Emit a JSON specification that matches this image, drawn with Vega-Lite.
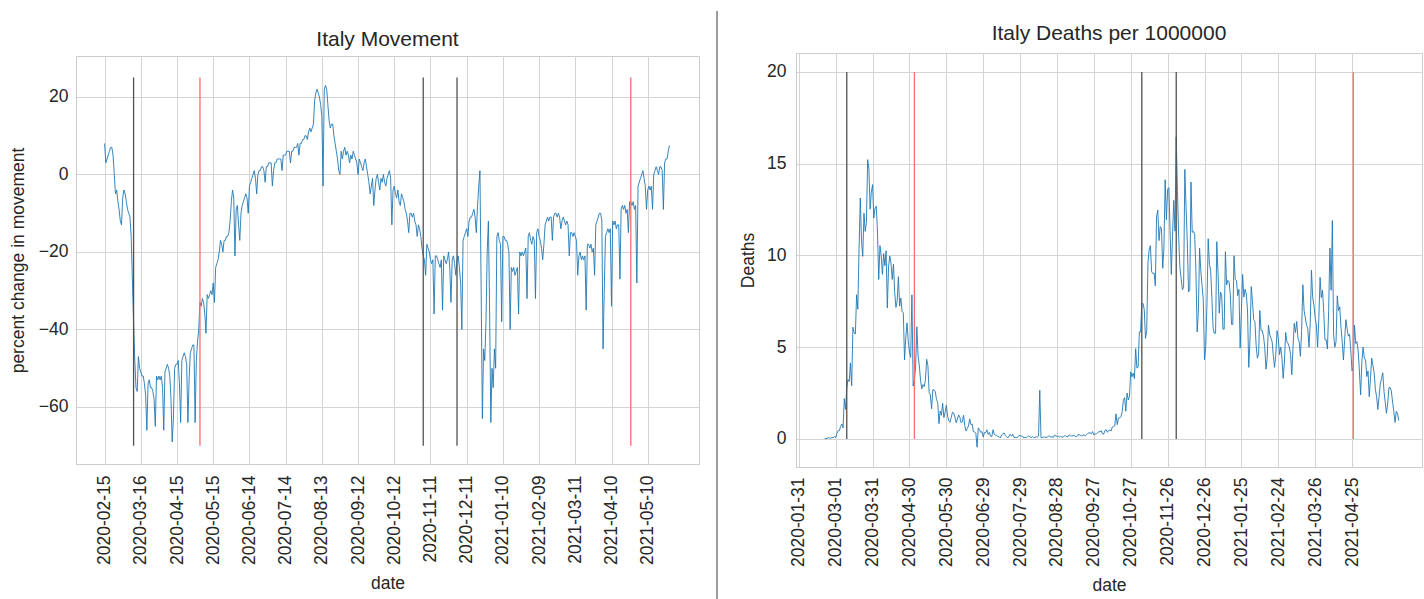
{
"$schema": "https://vega.github.io/schema/vega-lite/v6.json",
"background": "white",
"padding": {"left": 8, "top": 10, "right": 0, "bottom": 0},
"config": {
"font": "Liberation Sans",
"view": {"stroke": "#cccccc", "strokeWidth": 1},
"axis": {"grid": true, "gridColor": "#d4d4d4", "gridWidth": 1, "domain": false, "ticks": false, "labelFlush": false, "labelOverlap": false, "labelFont": "Liberation Sans", "labelFontSize": 17.5, "labelColor": "#262626", "titleFont": "Liberation Sans", "titleFontSize": 17.5, "titleFontWeight": "normal", "titleColor": "#262626"},
"title": {"font": "Liberation Sans", "fontSize": 21, "fontWeight": "normal", "color": "#262626", "anchor": "middle"}
},
"datasets": {
"events": [{"date":"2020-03-10","kind":"lockdown"},{"date":"2020-05-04","kind":"reopening"},{"date":"2020-11-05","kind":"lockdown"},{"date":"2020-12-03","kind":"lockdown"},{"date":"2021-04-26","kind":"reopening"}],
"movement": [
{"date":"2020-02-15","value":8},{"date":"2020-02-16","value":3},{"date":"2020-02-17","value":4},{"date":"2020-02-18","value":5},{"date":"2020-02-19","value":6},{"date":"2020-02-20","value":7},{"date":"2020-02-21","value":7},{"date":"2020-02-22","value":5},{"date":"2020-02-23","value":0},{"date":"2020-02-24","value":-5},{"date":"2020-02-25","value":-4},{"date":"2020-02-26","value":-7},{"date":"2020-02-27","value":-9},{"date":"2020-02-28","value":-12},{"date":"2020-02-29","value":-13},
{"date":"2020-03-01","value":-6},{"date":"2020-03-02","value":-4},{"date":"2020-03-03","value":-5},{"date":"2020-03-04","value":-7},{"date":"2020-03-05","value":-9},{"date":"2020-03-06","value":-10},{"date":"2020-03-07","value":-11},{"date":"2020-03-08","value":-16},{"date":"2020-03-09","value":-27},{"date":"2020-03-10","value":-38},{"date":"2020-03-11","value":-48},{"date":"2020-03-12","value":-55},{"date":"2020-03-13","value":-56},{"date":"2020-03-14","value":-47},{"date":"2020-03-15","value":-50},{"date":"2020-03-16","value":-51},{"date":"2020-03-17","value":-52},{"date":"2020-03-18","value":-52},{"date":"2020-03-19","value":-54},{"date":"2020-03-20","value":-57},{"date":"2020-03-21","value":-66},{"date":"2020-03-22","value":-54},{"date":"2020-03-23","value":-53},{"date":"2020-03-24","value":-55},{"date":"2020-03-25","value":-55},{"date":"2020-03-26","value":-56},{"date":"2020-03-27","value":-58},{"date":"2020-03-28","value":-65},{"date":"2020-03-29","value":-52},{"date":"2020-03-30","value":-53},{"date":"2020-03-31","value":-52},
{"date":"2020-04-01","value":-53},{"date":"2020-04-02","value":-52},{"date":"2020-04-03","value":-55},{"date":"2020-04-04","value":-66},{"date":"2020-04-05","value":-51},{"date":"2020-04-06","value":-50},{"date":"2020-04-07","value":-49},{"date":"2020-04-08","value":-50},{"date":"2020-04-09","value":-52},{"date":"2020-04-10","value":-58},{"date":"2020-04-11","value":-69},{"date":"2020-04-12","value":-63},{"date":"2020-04-13","value":-50},{"date":"2020-04-14","value":-49},{"date":"2020-04-15","value":-49},{"date":"2020-04-16","value":-48},{"date":"2020-04-17","value":-54},{"date":"2020-04-18","value":-64},{"date":"2020-04-19","value":-48},{"date":"2020-04-20","value":-47},{"date":"2020-04-21","value":-46},{"date":"2020-04-22","value":-47},{"date":"2020-04-23","value":-49},{"date":"2020-04-24","value":-64},{"date":"2020-04-25","value":-53},{"date":"2020-04-26","value":-46},{"date":"2020-04-27","value":-45},{"date":"2020-04-28","value":-44},{"date":"2020-04-29","value":-44},{"date":"2020-04-30","value":-64},
{"date":"2020-05-01","value":-48},{"date":"2020-05-02","value":-43},{"date":"2020-05-03","value":-40},{"date":"2020-05-04","value":-33},{"date":"2020-05-05","value":-34},{"date":"2020-05-06","value":-32},{"date":"2020-05-07","value":-33},{"date":"2020-05-08","value":-36},{"date":"2020-05-09","value":-41},{"date":"2020-05-10","value":-31},{"date":"2020-05-11","value":-32},{"date":"2020-05-12","value":-31},{"date":"2020-05-13","value":-30},{"date":"2020-05-14","value":-31},{"date":"2020-05-15","value":-28},{"date":"2020-05-16","value":-33},{"date":"2020-05-17","value":-24},{"date":"2020-05-18","value":-23},{"date":"2020-05-19","value":-22},{"date":"2020-05-20","value":-20},{"date":"2020-05-21","value":-17},{"date":"2020-05-22","value":-18},{"date":"2020-05-23","value":-20},{"date":"2020-05-24","value":-17},{"date":"2020-05-25","value":-17},{"date":"2020-05-26","value":-16},{"date":"2020-05-27","value":-16},{"date":"2020-05-28","value":-15},{"date":"2020-05-29","value":-12},{"date":"2020-05-30","value":-7},{"date":"2020-05-31","value":-4},
{"date":"2020-06-01","value":-6},{"date":"2020-06-02","value":-21},{"date":"2020-06-03","value":-9},{"date":"2020-06-04","value":-8},{"date":"2020-06-05","value":-13},{"date":"2020-06-06","value":-17},{"date":"2020-06-07","value":-10},{"date":"2020-06-08","value":-8},{"date":"2020-06-09","value":-7},{"date":"2020-06-10","value":-6},{"date":"2020-06-11","value":-5},{"date":"2020-06-12","value":-6},{"date":"2020-06-13","value":-10},{"date":"2020-06-14","value":-3},{"date":"2020-06-15","value":-2},{"date":"2020-06-16","value":-1},{"date":"2020-06-17","value":0},{"date":"2020-06-18","value":1},{"date":"2020-06-19","value":-1},{"date":"2020-06-20","value":-5},{"date":"2020-06-21","value":0},{"date":"2020-06-22","value":1},{"date":"2020-06-23","value":1},{"date":"2020-06-24","value":2},{"date":"2020-06-25","value":2},{"date":"2020-06-26","value":1},{"date":"2020-06-27","value":-2},{"date":"2020-06-28","value":2},{"date":"2020-06-29","value":2},{"date":"2020-06-30","value":3},
{"date":"2020-07-01","value":3},{"date":"2020-07-02","value":3},{"date":"2020-07-03","value":-3},{"date":"2020-07-04","value":1},{"date":"2020-07-05","value":3},{"date":"2020-07-06","value":3},{"date":"2020-07-07","value":4},{"date":"2020-07-08","value":4},{"date":"2020-07-09","value":4},{"date":"2020-07-10","value":4},{"date":"2020-07-11","value":1},{"date":"2020-07-12","value":5},{"date":"2020-07-13","value":5},{"date":"2020-07-14","value":5},{"date":"2020-07-15","value":6},{"date":"2020-07-16","value":6},{"date":"2020-07-17","value":6},{"date":"2020-07-18","value":3},{"date":"2020-07-19","value":6},{"date":"2020-07-20","value":6},{"date":"2020-07-21","value":7},{"date":"2020-07-22","value":7},{"date":"2020-07-23","value":7},{"date":"2020-07-24","value":8},{"date":"2020-07-25","value":5},{"date":"2020-07-26","value":8},{"date":"2020-07-27","value":8},{"date":"2020-07-28","value":9},{"date":"2020-07-29","value":9},{"date":"2020-07-30","value":10},{"date":"2020-07-31","value":10},
{"date":"2020-08-01","value":9},{"date":"2020-08-02","value":11},{"date":"2020-08-03","value":12},{"date":"2020-08-04","value":11},{"date":"2020-08-05","value":12},{"date":"2020-08-06","value":13},{"date":"2020-08-07","value":19},{"date":"2020-08-08","value":21},{"date":"2020-08-09","value":22},{"date":"2020-08-10","value":21},{"date":"2020-08-11","value":20},{"date":"2020-08-12","value":18},{"date":"2020-08-13","value":15},{"date":"2020-08-14","value":-3},{"date":"2020-08-15","value":22},{"date":"2020-08-16","value":23},{"date":"2020-08-17","value":22},{"date":"2020-08-18","value":18},{"date":"2020-08-19","value":14},{"date":"2020-08-20","value":12},{"date":"2020-08-21","value":13},{"date":"2020-08-22","value":13},{"date":"2020-08-23","value":10},{"date":"2020-08-24","value":8},{"date":"2020-08-25","value":6},{"date":"2020-08-26","value":4},{"date":"2020-08-27","value":1},{"date":"2020-08-28","value":0},{"date":"2020-08-29","value":6},{"date":"2020-08-30","value":4},{"date":"2020-08-31","value":6},
{"date":"2020-09-01","value":7},{"date":"2020-09-02","value":5},{"date":"2020-09-03","value":6},{"date":"2020-09-04","value":5},{"date":"2020-09-05","value":3},{"date":"2020-09-06","value":5},{"date":"2020-09-07","value":4},{"date":"2020-09-08","value":6},{"date":"2020-09-09","value":5},{"date":"2020-09-10","value":4},{"date":"2020-09-11","value":3},{"date":"2020-09-12","value":0},{"date":"2020-09-13","value":4},{"date":"2020-09-14","value":3},{"date":"2020-09-15","value":2},{"date":"2020-09-16","value":1},{"date":"2020-09-17","value":3},{"date":"2020-09-18","value":4},{"date":"2020-09-19","value":2},{"date":"2020-09-20","value":0},{"date":"2020-09-21","value":-2},{"date":"2020-09-22","value":-5},{"date":"2020-09-23","value":-3},{"date":"2020-09-24","value":-1},{"date":"2020-09-25","value":-8},{"date":"2020-09-26","value":-4},{"date":"2020-09-27","value":-1},{"date":"2020-09-28","value":0},{"date":"2020-09-29","value":-2},{"date":"2020-09-30","value":-4},
{"date":"2020-10-01","value":-1},{"date":"2020-10-02","value":-2},{"date":"2020-10-03","value":0},{"date":"2020-10-04","value":-2},{"date":"2020-10-05","value":-3},{"date":"2020-10-06","value":-1},{"date":"2020-10-07","value":0},{"date":"2020-10-08","value":1},{"date":"2020-10-09","value":-1},{"date":"2020-10-10","value":-13},{"date":"2020-10-11","value":-4},{"date":"2020-10-12","value":-3},{"date":"2020-10-13","value":-5},{"date":"2020-10-14","value":-6},{"date":"2020-10-15","value":-4},{"date":"2020-10-16","value":-7},{"date":"2020-10-17","value":-8},{"date":"2020-10-18","value":-5},{"date":"2020-10-19","value":-6},{"date":"2020-10-20","value":-7},{"date":"2020-10-21","value":-9},{"date":"2020-10-22","value":-10},{"date":"2020-10-23","value":-12},{"date":"2020-10-24","value":-15},{"date":"2020-10-25","value":-10},{"date":"2020-10-26","value":-10},{"date":"2020-10-27","value":-11},{"date":"2020-10-28","value":-10},{"date":"2020-10-29","value":-12},{"date":"2020-10-30","value":-13},{"date":"2020-10-31","value":-16},
{"date":"2020-11-01","value":-13},{"date":"2020-11-02","value":-14},{"date":"2020-11-03","value":-16},{"date":"2020-11-04","value":-19},{"date":"2020-11-05","value":-21},{"date":"2020-11-06","value":-22},{"date":"2020-11-07","value":-26},{"date":"2020-11-08","value":-18},{"date":"2020-11-09","value":-19},{"date":"2020-11-10","value":-20},{"date":"2020-11-11","value":-22},{"date":"2020-11-12","value":-23},{"date":"2020-11-13","value":-22},{"date":"2020-11-14","value":-36},{"date":"2020-11-15","value":-21},{"date":"2020-11-16","value":-21},{"date":"2020-11-17","value":-22},{"date":"2020-11-18","value":-23},{"date":"2020-11-19","value":-24},{"date":"2020-11-20","value":-22},{"date":"2020-11-21","value":-35},{"date":"2020-11-22","value":-21},{"date":"2020-11-23","value":-22},{"date":"2020-11-24","value":-23},{"date":"2020-11-25","value":-22},{"date":"2020-11-26","value":-20},{"date":"2020-11-27","value":-24},{"date":"2020-11-28","value":-33},{"date":"2020-11-29","value":-22},{"date":"2020-11-30","value":-21},
{"date":"2020-12-01","value":-23},{"date":"2020-12-02","value":-26},{"date":"2020-12-03","value":-22},{"date":"2020-12-04","value":-21},{"date":"2020-12-05","value":-24},{"date":"2020-12-06","value":-28},{"date":"2020-12-07","value":-40},{"date":"2020-12-08","value":-17},{"date":"2020-12-09","value":-16},{"date":"2020-12-10","value":-15},{"date":"2020-12-11","value":-14},{"date":"2020-12-12","value":-16},{"date":"2020-12-13","value":-12},{"date":"2020-12-14","value":-11},{"date":"2020-12-15","value":-11},{"date":"2020-12-16","value":-10},{"date":"2020-12-17","value":-9},{"date":"2020-12-18","value":-11},{"date":"2020-12-19","value":-15},{"date":"2020-12-20","value":-8},{"date":"2020-12-21","value":-3},{"date":"2020-12-22","value":1},{"date":"2020-12-23","value":-30},{"date":"2020-12-24","value":-63},{"date":"2020-12-25","value":-45},{"date":"2020-12-26","value":-48},{"date":"2020-12-27","value":-38},{"date":"2020-12-28","value":-20},{"date":"2020-12-29","value":-12},{"date":"2020-12-30","value":-35},{"date":"2020-12-31","value":-64},
{"date":"2021-01-01","value":-50},{"date":"2021-01-02","value":-55},{"date":"2021-01-03","value":-45},{"date":"2021-01-04","value":-50},{"date":"2021-01-05","value":-16},{"date":"2021-01-06","value":-15},{"date":"2021-01-07","value":-17},{"date":"2021-01-08","value":-18},{"date":"2021-01-09","value":-38},{"date":"2021-01-10","value":-16},{"date":"2021-01-11","value":-16},{"date":"2021-01-12","value":-17},{"date":"2021-01-13","value":-17},{"date":"2021-01-14","value":-18},{"date":"2021-01-15","value":-20},{"date":"2021-01-16","value":-40},{"date":"2021-01-17","value":-24},{"date":"2021-01-18","value":-25},{"date":"2021-01-19","value":-24},{"date":"2021-01-20","value":-26},{"date":"2021-01-21","value":-25},{"date":"2021-01-22","value":-24},{"date":"2021-01-23","value":-36},{"date":"2021-01-24","value":-20},{"date":"2021-01-25","value":-21},{"date":"2021-01-26","value":-20},{"date":"2021-01-27","value":-21},{"date":"2021-01-28","value":-20},{"date":"2021-01-29","value":-19},{"date":"2021-01-30","value":-32},{"date":"2021-01-31","value":-16},
{"date":"2021-02-01","value":-15},{"date":"2021-02-02","value":-17},{"date":"2021-02-03","value":-18},{"date":"2021-02-04","value":-16},{"date":"2021-02-05","value":-17},{"date":"2021-02-06","value":-32},{"date":"2021-02-07","value":-15},{"date":"2021-02-08","value":-14},{"date":"2021-02-09","value":-16},{"date":"2021-02-10","value":-17},{"date":"2021-02-11","value":-19},{"date":"2021-02-12","value":-22},{"date":"2021-02-13","value":-18},{"date":"2021-02-14","value":-13},{"date":"2021-02-15","value":-12},{"date":"2021-02-16","value":-11},{"date":"2021-02-17","value":-12},{"date":"2021-02-18","value":-11},{"date":"2021-02-19","value":-11},{"date":"2021-02-20","value":-17},{"date":"2021-02-21","value":-11},{"date":"2021-02-22","value":-10},{"date":"2021-02-23","value":-10},{"date":"2021-02-24","value":-11},{"date":"2021-02-25","value":-10},{"date":"2021-02-26","value":-11},{"date":"2021-02-27","value":-14},{"date":"2021-02-28","value":-12},
{"date":"2021-03-01","value":-11},{"date":"2021-03-02","value":-12},{"date":"2021-03-03","value":-13},{"date":"2021-03-04","value":-12},{"date":"2021-03-05","value":-13},{"date":"2021-03-06","value":-21},{"date":"2021-03-07","value":-15},{"date":"2021-03-08","value":-15},{"date":"2021-03-09","value":-16},{"date":"2021-03-10","value":-15},{"date":"2021-03-11","value":-16},{"date":"2021-03-12","value":-17},{"date":"2021-03-13","value":-26},{"date":"2021-03-14","value":-21},{"date":"2021-03-15","value":-20},{"date":"2021-03-16","value":-22},{"date":"2021-03-17","value":-21},{"date":"2021-03-18","value":-22},{"date":"2021-03-19","value":-21},{"date":"2021-03-20","value":-35},{"date":"2021-03-21","value":-18},{"date":"2021-03-22","value":-18},{"date":"2021-03-23","value":-19},{"date":"2021-03-24","value":-18},{"date":"2021-03-25","value":-20},{"date":"2021-03-26","value":-19},{"date":"2021-03-27","value":-26},{"date":"2021-03-28","value":-13},{"date":"2021-03-29","value":-12},{"date":"2021-03-30","value":-11},{"date":"2021-03-31","value":-10},
{"date":"2021-04-01","value":-10},{"date":"2021-04-02","value":-12},{"date":"2021-04-03","value":-45},{"date":"2021-04-04","value":-30},{"date":"2021-04-05","value":-16},{"date":"2021-04-06","value":-15},{"date":"2021-04-07","value":-14},{"date":"2021-04-08","value":-15},{"date":"2021-04-09","value":-14},{"date":"2021-04-10","value":-34},{"date":"2021-04-11","value":-12},{"date":"2021-04-12","value":-13},{"date":"2021-04-13","value":-12},{"date":"2021-04-14","value":-14},{"date":"2021-04-15","value":-13},{"date":"2021-04-16","value":-13},{"date":"2021-04-17","value":-27},{"date":"2021-04-18","value":-9},{"date":"2021-04-19","value":-8},{"date":"2021-04-20","value":-9},{"date":"2021-04-21","value":-8},{"date":"2021-04-22","value":-10},{"date":"2021-04-23","value":-9},{"date":"2021-04-24","value":-15},{"date":"2021-04-25","value":-7},{"date":"2021-04-26","value":-7},{"date":"2021-04-27","value":-8},{"date":"2021-04-28","value":-7},{"date":"2021-04-29","value":-9},{"date":"2021-04-30","value":-8},
{"date":"2021-05-01","value":-28},{"date":"2021-05-02","value":-3},{"date":"2021-05-03","value":-2},{"date":"2021-05-04","value":-1},{"date":"2021-05-05","value":0},{"date":"2021-05-06","value":1},{"date":"2021-05-07","value":-1},{"date":"2021-05-08","value":-3},{"date":"2021-05-09","value":-9},{"date":"2021-05-10","value":-4},{"date":"2021-05-11","value":-3},{"date":"2021-05-12","value":-4},{"date":"2021-05-13","value":-3},{"date":"2021-05-14","value":-9},{"date":"2021-05-15","value":0},{"date":"2021-05-16","value":1},{"date":"2021-05-17","value":2},{"date":"2021-05-18","value":1},{"date":"2021-05-19","value":0},{"date":"2021-05-20","value":2},{"date":"2021-05-21","value":2},{"date":"2021-05-22","value":1},{"date":"2021-05-23","value":-9},{"date":"2021-05-24","value":3},{"date":"2021-05-25","value":4},{"date":"2021-05-26","value":4},{"date":"2021-05-27","value":6},{"date":"2021-05-28","value":7.5}
],
"deaths": [
{"date":"2020-02-21","value":0.02},{"date":"2020-02-22","value":0.02},{"date":"2020-02-23","value":0.02},{"date":"2020-02-24","value":0.07},{"date":"2020-02-25","value":0.05},{"date":"2020-02-26","value":0.03},{"date":"2020-02-27","value":0.08},{"date":"2020-02-28","value":0.07},{"date":"2020-02-29","value":0.13},
{"date":"2020-03-01","value":0.08},{"date":"2020-03-02","value":0.3},{"date":"2020-03-03","value":0.45},{"date":"2020-03-04","value":0.46},{"date":"2020-03-05","value":0.68},{"date":"2020-03-06","value":0.81},{"date":"2020-03-07","value":0.6},{"date":"2020-03-08","value":2.2},{"date":"2020-03-09","value":1.61},{"date":"2020-03-10","value":2.78},{"date":"2020-03-11","value":3.24},{"date":"2020-03-12","value":3.13},{"date":"2020-03-13","value":4.14},{"date":"2020-03-14","value":2.9},{"date":"2020-03-15","value":6.09},{"date":"2020-03-16","value":5.78},{"date":"2020-03-17","value":5.71},{"date":"2020-03-18","value":7.86},{"date":"2020-03-19","value":7.07},{"date":"2020-03-20","value":10.38},{"date":"2020-03-21","value":13.13},{"date":"2020-03-22","value":10.78},{"date":"2020-03-23","value":9.95},{"date":"2020-03-24","value":12.3},{"date":"2020-03-25","value":11.31},{"date":"2020-03-26","value":11.79},{"date":"2020-03-27","value":15.22},{"date":"2020-03-28","value":14.72},{"date":"2020-03-29","value":12.52},{"date":"2020-03-30","value":13.44},{"date":"2020-03-31","value":13.86},
{"date":"2020-04-01","value":12.04},{"date":"2020-04-02","value":12.58},{"date":"2020-04-03","value":12.68},{"date":"2020-04-04","value":11.27},{"date":"2020-04-05","value":8.69},{"date":"2020-04-06","value":10.53},{"date":"2020-04-07","value":10.0},{"date":"2020-04-08","value":8.97},{"date":"2020-04-09","value":10.1},{"date":"2020-04-10","value":9.44},{"date":"2020-04-11","value":10.25},{"date":"2020-04-12","value":7.14},{"date":"2020-04-13","value":9.37},{"date":"2020-04-14","value":9.97},{"date":"2020-04-15","value":9.57},{"date":"2020-04-16","value":8.69},{"date":"2020-04-17","value":9.52},{"date":"2020-04-18","value":7.98},{"date":"2020-04-19","value":7.17},{"date":"2020-04-20","value":7.52},{"date":"2020-04-21","value":8.84},{"date":"2020-04-22","value":7.24},{"date":"2020-04-23","value":7.68},{"date":"2020-04-24","value":6.95},{"date":"2020-04-25","value":6.87},{"date":"2020-04-26","value":4.3},{"date":"2020-04-27","value":5.51},{"date":"2020-04-28","value":6.32},{"date":"2020-04-29","value":5.35},{"date":"2020-04-30","value":4.72},
{"date":"2020-05-01","value":4.45},{"date":"2020-05-02","value":7.85},{"date":"2020-05-03","value":2.88},{"date":"2020-05-04","value":3.23},{"date":"2020-05-05","value":3.91},{"date":"2020-05-06","value":6.11},{"date":"2020-05-07","value":4.54},{"date":"2020-05-08","value":4.02},{"date":"2020-05-09","value":3.21},{"date":"2020-05-10","value":2.73},{"date":"2020-05-11","value":2.96},{"date":"2020-05-12","value":2.85},{"date":"2020-05-13","value":3.23},{"date":"2020-05-14","value":4.34},{"date":"2020-05-15","value":4.0},{"date":"2020-05-16","value":2.53},{"date":"2020-05-17","value":2.4},{"date":"2020-05-18","value":1.64},{"date":"2020-05-19","value":2.68},{"date":"2020-05-20","value":2.67},{"date":"2020-05-21","value":2.58},{"date":"2020-05-22","value":2.15},{"date":"2020-05-23","value":1.97},{"date":"2020-05-24","value":0.83},{"date":"2020-05-25","value":1.52},{"date":"2020-05-26","value":1.29},{"date":"2020-05-27","value":1.94},{"date":"2020-05-28","value":1.16},{"date":"2020-05-29","value":1.44},{"date":"2020-05-30","value":1.84},{"date":"2020-05-31","value":1.24},
{"date":"2020-06-01","value":0.99},{"date":"2020-06-02","value":0.91},{"date":"2020-06-03","value":1.18},{"date":"2020-06-04","value":1.46},{"date":"2020-06-05","value":1.41},{"date":"2020-06-06","value":1.19},{"date":"2020-06-07","value":0.88},{"date":"2020-06-08","value":1.08},{"date":"2020-06-09","value":1.31},{"date":"2020-06-10","value":1.18},{"date":"2020-06-11","value":0.88},{"date":"2020-06-12","value":0.93},{"date":"2020-06-13","value":1.29},{"date":"2020-06-14","value":0.73},{"date":"2020-06-15","value":0.43},{"date":"2020-06-16","value":0.56},{"date":"2020-06-17","value":0.71},{"date":"2020-06-18","value":1.09},{"date":"2020-06-19","value":0.78},{"date":"2020-06-20","value":0.81},{"date":"2020-06-21","value":0.4},{"date":"2020-06-22","value":0.38},{"date":"2020-06-23","value":0.3},{"date":"2020-06-24","value":-0.45},{"date":"2020-06-25","value":0.6},{"date":"2020-06-26","value":0.5},{"date":"2020-06-27","value":0.35},{"date":"2020-06-28","value":0.4},{"date":"2020-06-29","value":0.1},{"date":"2020-06-30","value":0.35},
{"date":"2020-07-01","value":0.35},{"date":"2020-07-02","value":0.5},{"date":"2020-07-03","value":0.25},{"date":"2020-07-04","value":0.35},{"date":"2020-07-05","value":0.15},{"date":"2020-07-06","value":0.13},{"date":"2020-07-07","value":0.5},{"date":"2020-07-08","value":0.25},{"date":"2020-07-09","value":0.2},{"date":"2020-07-10","value":0.2},{"date":"2020-07-11","value":0.12},{"date":"2020-07-12","value":0.12},{"date":"2020-07-13","value":0.05},{"date":"2020-07-14","value":0.22},{"date":"2020-07-15","value":0.28},{"date":"2020-07-16","value":0.33},{"date":"2020-07-17","value":0.18},{"date":"2020-07-18","value":0.13},{"date":"2020-07-19","value":0.05},{"date":"2020-07-20","value":0.15},{"date":"2020-07-21","value":0.25},{"date":"2020-07-22","value":0.15},{"date":"2020-07-23","value":0.25},{"date":"2020-07-24","value":0.08},{"date":"2020-07-25","value":0.08},{"date":"2020-07-26","value":0.08},{"date":"2020-07-27","value":0.08},{"date":"2020-07-28","value":0.18},{"date":"2020-07-29","value":0.18},{"date":"2020-07-30","value":0.15},{"date":"2020-07-31","value":0.15},
{"date":"2020-08-01","value":0.05},{"date":"2020-08-02","value":0.08},{"date":"2020-08-03","value":0.08},{"date":"2020-08-04","value":0.12},{"date":"2020-08-05","value":0.17},{"date":"2020-08-06","value":0.1},{"date":"2020-08-07","value":0.07},{"date":"2020-08-08","value":0.13},{"date":"2020-08-09","value":0.07},{"date":"2020-08-10","value":0.07},{"date":"2020-08-11","value":0.12},{"date":"2020-08-12","value":0.1},{"date":"2020-08-13","value":0.15},{"date":"2020-08-14","value":2.65},{"date":"2020-08-15","value":0.07},{"date":"2020-08-16","value":0.07},{"date":"2020-08-17","value":0.1},{"date":"2020-08-18","value":0.1},{"date":"2020-08-19","value":0.08},{"date":"2020-08-20","value":0.1},{"date":"2020-08-21","value":0.15},{"date":"2020-08-22","value":0.15},{"date":"2020-08-23","value":0.1},{"date":"2020-08-24","value":0.12},{"date":"2020-08-25","value":0.08},{"date":"2020-08-26","value":0.22},{"date":"2020-08-27","value":0.15},{"date":"2020-08-28","value":0.15},{"date":"2020-08-29","value":0.15},{"date":"2020-08-30","value":0.1},{"date":"2020-08-31","value":0.15},
{"date":"2020-09-01","value":0.1},{"date":"2020-09-02","value":0.1},{"date":"2020-09-03","value":0.17},{"date":"2020-09-04","value":0.17},{"date":"2020-09-05","value":0.12},{"date":"2020-09-06","value":0.12},{"date":"2020-09-07","value":0.23},{"date":"2020-09-08","value":0.17},{"date":"2020-09-09","value":0.17},{"date":"2020-09-10","value":0.17},{"date":"2020-09-11","value":0.2},{"date":"2020-09-12","value":0.12},{"date":"2020-09-13","value":0.12},{"date":"2020-09-14","value":0.23},{"date":"2020-09-15","value":0.23},{"date":"2020-09-16","value":0.2},{"date":"2020-09-17","value":0.17},{"date":"2020-09-18","value":0.17},{"date":"2020-09-19","value":0.23},{"date":"2020-09-20","value":0.17},{"date":"2020-09-21","value":0.23},{"date":"2020-09-22","value":0.3},{"date":"2020-09-23","value":0.33},{"date":"2020-09-24","value":0.33},{"date":"2020-09-25","value":0.28},{"date":"2020-09-26","value":0.4},{"date":"2020-09-27","value":0.22},{"date":"2020-09-28","value":0.28},{"date":"2020-09-29","value":0.28},{"date":"2020-09-30","value":0.33},
{"date":"2020-10-01","value":0.4},{"date":"2020-10-02","value":0.38},{"date":"2020-10-03","value":0.45},{"date":"2020-10-04","value":0.28},{"date":"2020-10-05","value":0.26},{"date":"2020-10-06","value":0.46},{"date":"2020-10-07","value":0.51},{"date":"2020-10-08","value":0.36},{"date":"2020-10-09","value":0.46},{"date":"2020-10-10","value":0.48},{"date":"2020-10-11","value":0.43},{"date":"2020-10-12","value":0.65},{"date":"2020-10-13","value":0.68},{"date":"2020-10-14","value":0.71},{"date":"2020-10-15","value":1.37},{"date":"2020-10-16","value":0.78},{"date":"2020-10-17","value":1.14},{"date":"2020-10-18","value":1.14},{"date":"2020-10-19","value":1.21},{"date":"2020-10-20","value":1.47},{"date":"2020-10-21","value":2.1},{"date":"2020-10-22","value":2.25},{"date":"2020-10-23","value":1.51},{"date":"2020-10-24","value":2.5},{"date":"2020-10-25","value":2.12},{"date":"2020-10-26","value":2.33},{"date":"2020-10-27","value":3.66},{"date":"2020-10-28","value":3.39},{"date":"2020-10-29","value":3.59},{"date":"2020-10-30","value":3.29},{"date":"2020-10-31","value":4.92},
{"date":"2020-11-01","value":3.86},{"date":"2020-11-02","value":3.91},{"date":"2020-11-03","value":5.84},{"date":"2020-11-04","value":5.83},{"date":"2020-11-05","value":7.37},{"date":"2020-11-06","value":7.38},{"date":"2020-11-07","value":7.04},{"date":"2020-11-08","value":5.48},{"date":"2020-11-09","value":5.89},{"date":"2020-11-10","value":9.6},{"date":"2020-11-11","value":10.31},{"date":"2020-11-12","value":10.53},{"date":"2020-11-13","value":9.11},{"date":"2020-11-14","value":9.01},{"date":"2020-11-15","value":9.04},{"date":"2020-11-16","value":8.34},{"date":"2020-11-17","value":12.1},{"date":"2020-11-18","value":12.47},{"date":"2020-11-19","value":10.81},{"date":"2020-11-20","value":11.57},{"date":"2020-11-21","value":11.46},{"date":"2020-11-22","value":9.3},{"date":"2020-11-23","value":10.43},{"date":"2020-11-24","value":14.12},{"date":"2020-11-25","value":11.95},{"date":"2020-11-26","value":13.61},{"date":"2020-11-27","value":13.69},{"date":"2020-11-28","value":11.36},{"date":"2020-11-29","value":8.96},{"date":"2020-11-30","value":11.13},
{"date":"2020-12-01","value":13.0},{"date":"2020-12-02","value":11.32},{"date":"2020-12-03","value":16.44},{"date":"2020-12-04","value":13.48},{"date":"2020-12-05","value":10.96},{"date":"2020-12-06","value":9.34},{"date":"2020-12-07","value":8.74},{"date":"2020-12-08","value":8.13},{"date":"2020-12-09","value":8.26},{"date":"2020-12-10","value":14.69},{"date":"2020-12-11","value":12.6},{"date":"2020-12-12","value":10.75},{"date":"2020-12-13","value":8.01},{"date":"2020-12-14","value":8.13},{"date":"2020-12-15","value":14.0},{"date":"2020-12-16","value":11.26},{"date":"2020-12-17","value":11.31},{"date":"2020-12-18","value":11.16},{"date":"2020-12-19","value":9.16},{"date":"2020-12-20","value":5.83},{"date":"2020-12-21","value":6.87},{"date":"2020-12-22","value":10.4},{"date":"2020-12-23","value":9.16},{"date":"2020-12-24","value":8.36},{"date":"2020-12-25","value":7.6},{"date":"2020-12-26","value":4.32},{"date":"2020-12-27","value":5.05},{"date":"2020-12-28","value":7.37},{"date":"2020-12-29","value":10.91},{"date":"2020-12-30","value":9.52},{"date":"2020-12-31","value":9.19},
{"date":"2021-01-01","value":7.65},{"date":"2021-01-02","value":6.03},{"date":"2021-01-03","value":5.75},{"date":"2021-01-04","value":5.76},{"date":"2021-01-05","value":10.75},{"date":"2021-01-06","value":9.07},{"date":"2021-01-07","value":6.85},{"date":"2021-01-08","value":8.0},{"date":"2021-01-09","value":7.83},{"date":"2021-01-10","value":5.98},{"date":"2021-01-11","value":5.98},{"date":"2021-01-12","value":10.2},{"date":"2021-01-13","value":8.39},{"date":"2021-01-14","value":8.64},{"date":"2021-01-15","value":8.56},{"date":"2021-01-16","value":7.86},{"date":"2021-01-17","value":6.24},{"date":"2021-01-18","value":6.24},{"date":"2021-01-19","value":9.98},{"date":"2021-01-20","value":8.68},{"date":"2021-01-21","value":8.63},{"date":"2021-01-22","value":7.81},{"date":"2021-01-23","value":8.15},{"date":"2021-01-24","value":4.95},{"date":"2021-01-25","value":6.95},{"date":"2021-01-26","value":8.96},{"date":"2021-01-27","value":7.73},{"date":"2021-01-28","value":8.15},{"date":"2021-01-29","value":7.9},{"date":"2021-01-30","value":6.97},{"date":"2021-01-31","value":3.9},
{"date":"2021-02-01","value":5.4},{"date":"2021-02-02","value":8.3},{"date":"2021-02-03","value":7.5},{"date":"2021-02-04","value":6.5},{"date":"2021-02-05","value":6.4},{"date":"2021-02-06","value":5.1},{"date":"2021-02-07","value":4.4},{"date":"2021-02-08","value":4.6},{"date":"2021-02-09","value":7.0},{"date":"2021-02-10","value":5.9},{"date":"2021-02-11","value":5.9},{"date":"2021-02-12","value":5.6},{"date":"2021-02-13","value":5.0},{"date":"2021-02-14","value":3.8},{"date":"2021-02-15","value":4.4},{"date":"2021-02-16","value":6.2},{"date":"2021-02-17","value":5.7},{"date":"2021-02-18","value":5.5},{"date":"2021-02-19","value":5.3},{"date":"2021-02-20","value":4.5},{"date":"2021-02-21","value":3.9},{"date":"2021-02-22","value":4.6},{"date":"2021-02-23","value":5.9},{"date":"2021-02-24","value":5.5},{"date":"2021-02-25","value":4.6},{"date":"2021-02-26","value":5.0},{"date":"2021-02-27","value":4.4},{"date":"2021-02-28","value":3.3},
{"date":"2021-03-01","value":4.2},{"date":"2021-03-02","value":5.8},{"date":"2021-03-03","value":5.3},{"date":"2021-03-04","value":5.2},{"date":"2021-03-05","value":5.0},{"date":"2021-03-06","value":4.6},{"date":"2021-03-07","value":3.5},{"date":"2021-03-08","value":5.0},{"date":"2021-03-09","value":6.3},{"date":"2021-03-10","value":5.8},{"date":"2021-03-11","value":6.4},{"date":"2021-03-12","value":5.5},{"date":"2021-03-13","value":5.3},{"date":"2021-03-14","value":4.5},{"date":"2021-03-15","value":5.9},{"date":"2021-03-16","value":8.4},{"date":"2021-03-17","value":7.0},{"date":"2021-03-18","value":6.6},{"date":"2021-03-19","value":6.2},{"date":"2021-03-20","value":6.0},{"date":"2021-03-21","value":5.0},{"date":"2021-03-22","value":6.3},{"date":"2021-03-23","value":9.2},{"date":"2021-03-24","value":7.7},{"date":"2021-03-25","value":7.3},{"date":"2021-03-26","value":6.6},{"date":"2021-03-27","value":6.2},{"date":"2021-03-28","value":5.0},{"date":"2021-03-29","value":6.6},{"date":"2021-03-30","value":8.8},{"date":"2021-03-31","value":7.7},
{"date":"2021-04-01","value":8.1},{"date":"2021-04-02","value":6.9},{"date":"2021-04-03","value":5.4},{"date":"2021-04-04","value":5.4},{"date":"2021-04-05","value":4.9},{"date":"2021-04-06","value":7.0},{"date":"2021-04-07","value":10.4},{"date":"2021-04-08","value":8.1},{"date":"2021-04-09","value":11.9},{"date":"2021-04-10","value":5.7},{"date":"2021-04-11","value":5.0},{"date":"2021-04-12","value":5.3},{"date":"2021-04-13","value":7.8},{"date":"2021-04-14","value":7.0},{"date":"2021-04-15","value":7.2},{"date":"2021-04-16","value":6.1},{"date":"2021-04-17","value":5.3},{"date":"2021-04-18","value":4.3},{"date":"2021-04-19","value":5.4},{"date":"2021-04-20","value":6.5},{"date":"2021-04-21","value":6.0},{"date":"2021-04-22","value":5.6},{"date":"2021-04-23","value":5.7},{"date":"2021-04-24","value":4.8},{"date":"2021-04-25","value":3.7},{"date":"2021-04-26","value":3.9},{"date":"2021-04-27","value":6.2},{"date":"2021-04-28","value":5.2},{"date":"2021-04-29","value":5.3},{"date":"2021-04-30","value":4.8},
{"date":"2021-05-01","value":3.7},{"date":"2021-05-02","value":2.4},{"date":"2021-05-03","value":4.2},{"date":"2021-05-04","value":5.0},{"date":"2021-05-05","value":4.4},{"date":"2021-05-06","value":4.3},{"date":"2021-05-07","value":3.4},{"date":"2021-05-08","value":3.7},{"date":"2021-05-09","value":2.3},{"date":"2021-05-10","value":3.3},{"date":"2021-05-11","value":4.4},{"date":"2021-05-12","value":4.0},{"date":"2021-05-13","value":3.6},{"date":"2021-05-14","value":2.7},{"date":"2021-05-15","value":2.3},{"date":"2021-05-16","value":1.6},{"date":"2021-05-17","value":2.3},{"date":"2021-05-18","value":3.0},{"date":"2021-05-19","value":3.3},{"date":"2021-05-20","value":3.6},{"date":"2021-05-21","value":2.6},{"date":"2021-05-22","value":2.0},{"date":"2021-05-23","value":1.4},{"date":"2021-05-24","value":1.9},{"date":"2021-05-25","value":2.8},{"date":"2021-05-26","value":2.8},{"date":"2021-05-27","value":2.6},{"date":"2021-05-28","value":2.0},{"date":"2021-05-29","value":1.5},{"date":"2021-05-30","value":0.9},{"date":"2021-05-31","value":1.5},
{"date":"2021-06-01","value":1.4},{"date":"2021-06-02","value":1.0}
]
},
"spacing": 18,
"bounds": "flush",
"center": true,
"hconcat": [
{
"width": 623, "height": 408,
"title": {"text": "Italy Movement", "offset": 6},
"layer": [
{"data": {"name": "movement"},
 "mark": {"type": "line", "color": "#1f77b4", "strokeWidth": 0.9},
 "encoding": {
  "x": {"field": "date", "type": "temporal",
   "scale": {"type": "utc", "domain": [{"year":2020,"month":1,"date":22,"hours":7,"utc":true},{"year":2021,"month":6,"date":21,"hours":12,"utc":true}]},
   "axis": {"title": "date", "format": "%Y-%m-%d", "labelAngle": -90, "labelPadding": 11, "titlePadding": 10,
    "values": [{"year":2020,"month":2,"date":15,"utc":true},{"year":2020,"month":3,"date":16,"utc":true},{"year":2020,"month":4,"date":15,"utc":true},{"year":2020,"month":5,"date":15,"utc":true},{"year":2020,"month":6,"date":14,"utc":true},{"year":2020,"month":7,"date":14,"utc":true},{"year":2020,"month":8,"date":13,"utc":true},{"year":2020,"month":9,"date":12,"utc":true},{"year":2020,"month":10,"date":12,"utc":true},{"year":2020,"month":11,"date":11,"utc":true},{"year":2020,"month":12,"date":11,"utc":true},{"year":2021,"month":1,"date":10,"utc":true},{"year":2021,"month":2,"date":9,"utc":true},{"year":2021,"month":3,"date":11,"utc":true},{"year":2021,"month":4,"date":10,"utc":true},{"year":2021,"month":5,"date":10,"utc":true}]}},
  "y": {"field": "value", "type": "quantitative",
   "scale": {"domain": [-74.71, 30.58], "nice": false, "zero": false},
   "axis": {"title": "percent change in movement", "values": [-60,-40,-20,0,20], "labelPadding": 8, "titlePadding": 11}}
 }},
{"data": {"name": "events"},
 "mark": {"type": "rule", "strokeWidth": 1.3},
 "encoding": {
  "x": {"field": "date", "type": "temporal"},
  "y": {"datum": -70, "type": "quantitative"},
  "y2": {"datum": 25},
  "color": {"field": "kind", "type": "nominal", "scale": {"domain": ["lockdown","reopening"], "range": ["#505050","#ff6b6b"]}, "legend": null}
 }}
]
},
{
"width": 61, "height": 414,
"view": {"stroke": null},
"data": {"values": [{}]},
"mark": {"type": "rule", "clip": false, "color": "#3a3a3a", "strokeWidth": 1},
"encoding": {
 "x": {"datum": 0, "type": "quantitative", "scale": {"domain": [0, 1]}, "axis": null},
 "y": {"datum": 1.1014, "type": "quantitative", "scale": {"domain": [0, 1]}, "axis": null},
 "y2": {"datum": -0.3188}
}
},
{
"width": 626, "height": 414,
"title": {"text": "Italy Deaths per 1000000", "offset": 9},
"layer": [
{"data": {"name": "deaths"},
 "mark": {"type": "line", "color": "#1f77b4", "strokeWidth": 0.9},
 "encoding": {
  "x": {"field": "date", "type": "temporal",
   "scale": {"type": "utc", "domain": [{"year":2020,"month":1,"date":28,"hours":17,"utc":true},{"year":2021,"month":6,"date":20,"hours":22,"utc":true}]},
   "axis": {"title": "date", "format": "%Y-%m-%d", "labelAngle": -90, "labelPadding": 10, "titlePadding": 10,
    "values": [{"year":2020,"month":1,"date":31,"utc":true},{"year":2020,"month":3,"date":1,"utc":true},{"year":2020,"month":3,"date":31,"utc":true},{"year":2020,"month":4,"date":30,"utc":true},{"year":2020,"month":5,"date":30,"utc":true},{"year":2020,"month":6,"date":29,"utc":true},{"year":2020,"month":7,"date":29,"utc":true},{"year":2020,"month":8,"date":28,"utc":true},{"year":2020,"month":9,"date":27,"utc":true},{"year":2020,"month":10,"date":27,"utc":true},{"year":2020,"month":11,"date":26,"utc":true},{"year":2020,"month":12,"date":26,"utc":true},{"year":2021,"month":1,"date":25,"utc":true},{"year":2021,"month":2,"date":24,"utc":true},{"year":2021,"month":3,"date":26,"utc":true},{"year":2021,"month":4,"date":25,"utc":true}]}},
  "y": {"field": "value", "type": "quantitative",
   "scale": {"domain": [-1.53, 21.03], "nice": false, "zero": false},
   "axis": {"title": "Deaths", "values": [0,5,10,15,20], "labelPadding": 10, "titlePadding": 9}}
 }},
{"data": {"name": "events"},
 "mark": {"type": "rule", "strokeWidth": 1.3},
 "encoding": {
  "x": {"field": "date", "type": "temporal"},
  "y": {"datum": 0, "type": "quantitative"},
  "y2": {"datum": 20},
  "color": {"field": "kind", "type": "nominal", "scale": {"domain": ["lockdown","reopening"], "range": ["#505050","#ff6b6b"]}, "legend": null}
 }}
]
}
]
}
